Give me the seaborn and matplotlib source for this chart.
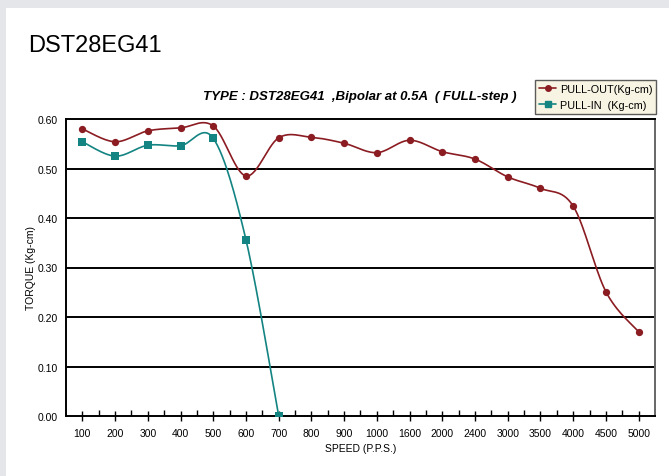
import numpy as np
import pandas as pd
import seaborn as sns
import matplotlib.pyplot as plt
from matplotlib.lines import Line2D
from matplotlib.patches import Rectangle
from matplotlib.ticker import FixedLocator, NullFormatter

# speed categories (P.P.S.) and torque readings (Kg-cm)
speeds = ['100', '200', '300', '400', '500', '600', '700', '800', '900', '1000',
          '1600', '2000', '2400', '3000', '3500', '4000', '4500', '5000']
pull_out = [0.580, 0.554, 0.576, 0.582, 0.586, 0.485, 0.562, 0.563, 0.551, 0.532,
            0.557, 0.534, 0.519, 0.483, 0.460, 0.424, 0.251, 0.170]
pull_in_speeds = ['100', '200', '300', '400', '500', '600', '700']
pull_in = [0.554, 0.525, 0.547, 0.546, 0.561, 0.356, 0.000]
y_ticks = [0.0, 0.1, 0.2, 0.3, 0.4, 0.5, 0.6]

out_color = '#8a1c22'
in_color = '#138482'

sns.set_theme(style='white')
plt.rcParams['font.family'] = ['Liberation Sans', 'DejaVu Sans']
for k in ['text.color', 'axes.labelcolor', 'xtick.color', 'ytick.color']:
    plt.rcParams[k] = 'black'


# smooth line through the points (bezier like a spreadsheet "smoothed line")
def smooth(xs, ys, n=30):
    xs = np.asarray(xs, float)
    ys = np.asarray(ys, float)
    px, py = [], []
    for i in range(len(xs) - 1):
        x0, y0 = (xs[i - 1], ys[i - 1]) if i > 0 else (xs[i], ys[i])
        x3, y3 = (xs[i + 2], ys[i + 2]) if i + 2 < len(xs) else (xs[i + 1], ys[i + 1])
        x1, y1 = xs[i], ys[i]
        x2, y2 = xs[i + 1], ys[i + 1]
        c1x, c1y = x1 + (x2 - x0) / 6, y1 + (y2 - y0) / 6
        c2x, c2y = x2 - (x3 - x1) / 6, y2 - (y3 - y1) / 6
        t = np.linspace(0, 1, n)
        px.append((1-t)**3*x1 + 3*(1-t)**2*t*c1x + 3*(1-t)*t**2*c2x + t**3*x2)
        py.append((1-t)**3*y1 + 3*(1-t)**2*t*c1y + 3*(1-t)*t**2*c2y + t**3*y2)
    return np.concatenate(px), np.concatenate(py)


df_out = pd.DataFrame({'pos': [speeds.index(s) for s in speeds], 'torque': pull_out})
df_in = pd.DataFrame({'pos': [speeds.index(s) for s in pull_in_speeds], 'torque': pull_in})

fig = plt.figure(figsize=(6.69, 4.77), dpi=100)
fig.patch.set_facecolor('#e4e6ea')
fig.patches.append(Rectangle((6/669, 0), 1, 1 - 9/477, transform=fig.transFigure,
                             facecolor='white', edgecolor='none', zorder=-10))

ax = fig.add_axes([66/669, 1 - 417/477, 589/669, 297/477])
ax.set_zorder(2)

for df, col, mk, ms in [(df_out, out_color, 'o', 5), (df_in, in_color, 's', 5)]:
    sx, sy = smooth(df['pos'], df['torque'])
    ax.plot(sx, sy, color=col, lw=1.2, zorder=3)
    sns.scatterplot(data=df, x='pos', y='torque', ax=ax, color=col, marker=mk,
                    s=ms**2 * 1.1, edgecolor=col, linewidth=0, zorder=4, legend=False)

# gridlines
for v in y_ticks[1:-1]:
    ax.axhline(v, color='black', lw=1.4, zorder=1)

ax.set_xlim(-0.5, len(speeds) - 0.5)
ax.set_ylim(0, 0.6)
ax.set_xticks(range(len(speeds)))
ax.set_xticklabels(speeds, fontsize=7.5)
ax.xaxis.set_minor_locator(FixedLocator(np.arange(0.5, len(speeds) - 0.5, 1)))
ax.xaxis.set_minor_formatter(NullFormatter())
ax.tick_params(axis='x', which='major', direction='inout', length=7, width=1,
               color='black', pad=5, bottom=True)
ax.tick_params(axis='x', which='minor', direction='in', length=4, width=1,
               color='black', bottom=True)
ax.set_yticks(y_ticks)
ax.set_yticklabels([f'{v:.2f}' for v in y_ticks], fontsize=7.5)
ax.tick_params(axis='y', length=0, pad=6)

for side in ['left', 'top', 'bottom']:
    ax.spines[side].set_color('black')
    ax.spines[side].set_linewidth(1.4)
ax.spines['right'].set_color('#666666')
ax.spines['right'].set_linewidth(1.4)

ax.set_xlabel('SPEED (P.P.S.)', fontsize=7.5, labelpad=4)
ax.set_ylabel('TORQUE (Kg-cm)', fontsize=7.5, labelpad=1)

fig.text(28/669, 1 - 46/477, 'DST28EG41', fontsize=17, va='center', ha='left')
fig.text(360/669, 1 - 97/477, 'TYPE : DST28EG41  ,Bipolar at 0.5A  ( FULL-step )',
         fontsize=9.5, fontweight='bold', fontstyle='italic', ha='center', va='center')

handles = [Line2D([], [], color=out_color, marker='o', markersize=4, lw=1.2),
           Line2D([], [], color=in_color, marker='s', markersize=4, lw=1.2)]
leg = fig.legend(handles, ['PULL-OUT(Kg-cm)', 'PULL-IN  (Kg-cm)'],
                 loc='upper right', bbox_to_anchor=(656/669, 1 - 81/477),
                 fontsize=7.8, frameon=True, fancybox=False, handlelength=1.6,
                 handletextpad=0.3, borderpad=0.35, labelspacing=0.55,
                 borderaxespad=0)
leg.get_frame().set_facecolor('#f6f2dc')
leg.get_frame().set_edgecolor('#333333')
leg.get_frame().set_linewidth(1)

fig.savefig('out.png', dpi=100)
